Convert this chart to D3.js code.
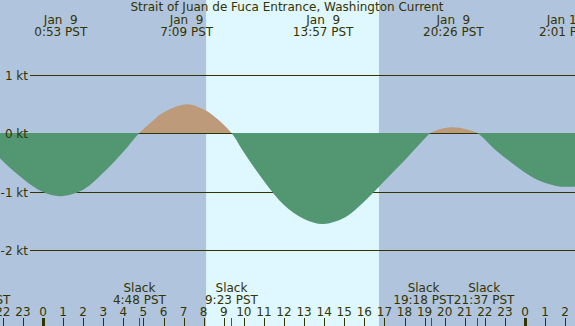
<!DOCTYPE html>
<html>
<head>
<meta charset="utf-8">
<script src="https://cdn.jsdelivr.net/npm/d3@7"></script>
<style>
  body { margin: 0; }
  svg { display: block; }
  text { font-family: "DejaVu Sans", sans-serif; font-size: 12px; fill: #333300; white-space: pre; }
</style>
</head>
<body>
<div id="chart"></div>
<script>
// hours since Jan 9 00:00 PST, speed in knots (flood +, ebb -)
var hours = [-3.13, -2.14, -1, 0, 0.883, 2, 3, 4, 4.8, 5.5, 6, 7.15, 8, 8.5, 9.383,
  10, 11, 12, 13, 13.95, 15, 16, 17, 18, 19, 19.3, 19.8, 20.433, 21, 21.617,
  22.5, 23.5, 24.5, 25.5, 26.017, 26.6];
var knots = [0, -0.43, -0.78, -1.01, -1.08, -0.97, -0.68, -0.32, 0, 0.22, 0.35, 0.49, 0.40, 0.29, 0,
  -0.33, -0.82, -1.23, -1.47, -1.556, -1.45, -1.17, -0.82, -0.47, -0.10, 0, 0.07, 0.097, 0.07, 0,
  -0.28, -0.55, -0.78, -0.90, -0.92, -0.91];

// max / min current events
var peakHours = [0.883, 7.15, 13.95, 20.433, 26.017];
var peakDates = ['Jan  9', 'Jan  9', 'Jan  9', 'Jan  9', 'Jan 10'];
var peakTimes = ['0:53 PST', '7:09 PST', '13:57 PST', '20:26 PST', '2:01 PST'];

// slack water
var slackHours = [-3.13, 4.8, 9.383, 19.3, 21.617];
var slackTimes = ['20:52 PST', '4:48 PST', '9:23 PST', '19:18 PST', '21:37 PST'];

var sunrise = 8.12, sunset = 16.73;
var knotTicks = [1, 0, -1, -2];
var hourTicks = d3.range(-2, 27);
var title = 'Strait of Juan de Fuca Entrance, Washington Current';

var width = 575, height = 326;

var x = d3.scaleLinear().domain([0, 24]).range([43, 525]);
var y = d3.scaleLinear().domain([0, 1]).range([133, 74.5]);

var svg = d3.select('#chart').append('svg')
  .attr('width', width).attr('height', height);

// night / day background
svg.append('rect').attr('width', width).attr('height', height).attr('fill', '#b0c4de');
svg.append('rect')
  .attr('x', x(sunrise)).attr('y', 0)
  .attr('width', x(sunset) - x(sunrise)).attr('height', height)
  .attr('fill', '#dff7ff');

// knot grid lines
svg.selectAll('.grid').data(knotTicks).enter().append('line')
  .attr('class', 'grid')
  .attr('x1', 30).attr('x2', width)
  .attr('y1', function(d) { return Math.round(y(d)) + 0.5; })
  .attr('y2', function(d) { return Math.round(y(d)) + 0.5; })
  .attr('stroke', '#333300').attr('stroke-width', 1);

// current area, split at zero by clips
var defs = svg.append('defs');
defs.append('clipPath').attr('id', 'flood').append('rect')
  .attr('x', 0).attr('y', 0).attr('width', width).attr('height', y(0));
defs.append('clipPath').attr('id', 'ebb').append('rect')
  .attr('x', 0).attr('y', y(0)).attr('width', width).attr('height', height - y(0));

var data = hours.map(function(h, i) { return [h, knots[i]]; });
var area = d3.area()
  .x(function(d) { return x(d[0]); })
  .y0(y(0))
  .y1(function(d) { return y(d[1]); })
  .curve(d3.curveCatmullRom.alpha(0.5));

svg.append('path').datum(data).attr('d', area)
  .attr('fill', '#bc9a7a').attr('clip-path', 'url(#flood)');
svg.append('path').datum(data).attr('d', area)
  .attr('fill', '#529672').attr('clip-path', 'url(#ebb)');

// knot labels
svg.selectAll('.klab').data(knotTicks).enter().append('text')
  .attr('x', 28)
  .attr('y', function(d) { return Math.round(y(d)) + 5; })
  .attr('text-anchor', 'end')
  .text(function(d) { return d + ' kt'; });

// title
svg.append('text').attr('x', 287).attr('y', 11)
  .attr('text-anchor', 'middle').text(title);

// peak labels
var peaks = svg.selectAll('.peak').data(peakHours).enter().append('g')
  .attr('transform', function(d) { return 'translate(' + x(d) + ',0)'; });
peaks.append('text').attr('y', 24).attr('text-anchor', 'middle')
  .text(function(d, i) { return peakDates[i]; });
peaks.append('text').attr('y', 36).attr('text-anchor', 'middle')
  .text(function(d, i) { return peakTimes[i]; });

// slack labels, pushed apart when they would collide
var slacks = svg.selectAll('.slack').data(slackHours).enter().append('g');
slacks.append('text').attr('y', 292).attr('text-anchor', 'middle').text('Slack');
var slackText = slacks.append('text').attr('y', 304).attr('text-anchor', 'middle')
  .text(function(d, i) { return slackTimes[i]; });

var pos = slackHours.map(function(d) { return x(d); });
var widths = [];
slackText.each(function() { widths.push(this.getComputedTextLength()); });
for (var i = 1; i < pos.length; i++) {
  var gap = (pos[i] - widths[i] / 2) - (pos[i - 1] + widths[i - 1] / 2);
  if (gap < 0) {
    pos[i - 1] += gap / 2;
    pos[i] -= gap / 2;
  }
}
slacks.attr('transform', function(d, i) { return 'translate(' + pos[i] + ',0)'; });

// hour axis
svg.selectAll('.hlab').data(hourTicks).enter().append('text')
  .attr('x', function(d) { return x(d); })
  .attr('y', 316)
  .attr('text-anchor', 'middle')
  .text(function(d) { return ((d % 24) + 24) % 24; });

svg.selectAll('.htick').data(hourTicks).enter().append('line')
  .attr('x1', function(d) { return Math.round(x(d)) + 0.5; })
  .attr('x2', function(d) { return Math.round(x(d)) + 0.5; })
  .attr('y1', 318).attr('y2', height)
  .attr('stroke', '#333300')
  .attr('stroke-width', function(d) { return d % 24 === 0 ? 3 : 1; });

svg.selectAll('.stick').data(slackHours).enter().append('line')
  .attr('x1', function(d) { return Math.round(x(d)) + 0.5; })
  .attr('x2', function(d) { return Math.round(x(d)) + 0.5; })
  .attr('y1', 318).attr('y2', height)
  .attr('stroke', 'red').attr('stroke-width', 1);
</script>
</body>
</html>
